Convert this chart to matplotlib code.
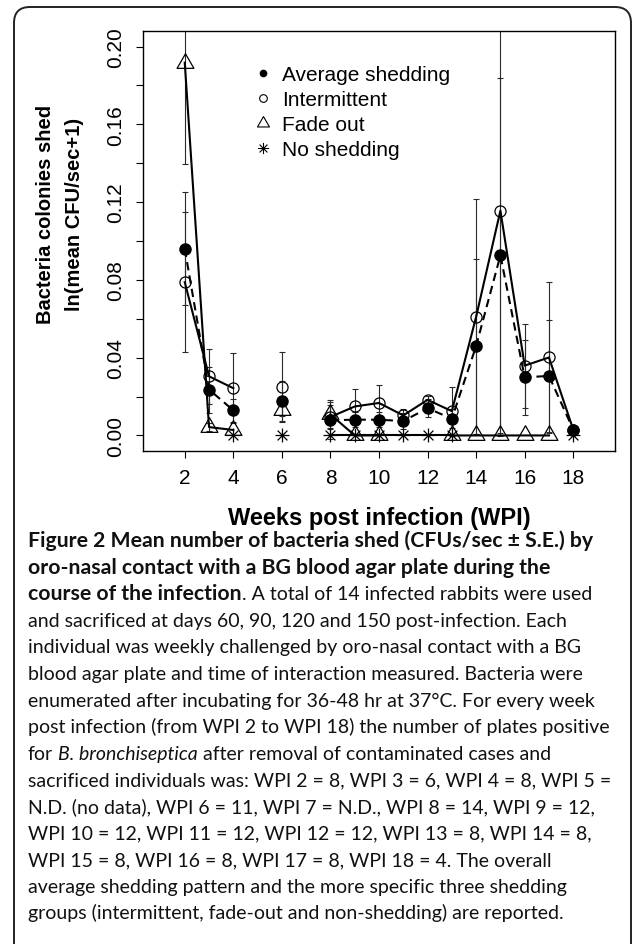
import numpy as np
import matplotlib
matplotlib.use("Agg")
import matplotlib.pyplot as plt
from matplotlib.lines import Line2D
from matplotlib.path import Path
from matplotlib.patches import FancyBboxPatch

nan = np.nan

# weeks post infection, 5 and 7 have no data (breaks the lines)
wpi = [2, 3, 4, 5, 6, 7, 8, 9, 10, 11, 12, 13, 14, 15, 16, 17, 18]

average = [0.096, 0.0236, 0.0129, nan, 0.0176, nan, 0.0078, 0.0081, 0.0081,
           0.0074, 0.014, 0.0086, 0.046, 0.0926, 0.0299, 0.0306, 0.003]
average_se = [0.029, 0.0118, 0.006, nan, 0.0106, nan, 0.0095, 0.004, 0.004,
              0.0043, 0.0045, 0.005, 0.045, 0.0911, 0.0192, 0.0288, nan]

intermittent = [0.0788, 0.0304, 0.0243, nan, 0.0251, nan, 0.0095, 0.0149, 0.0167,
                0.0103, 0.0183, 0.0125, 0.061, 0.1156, 0.0359, 0.0401, 0.003]
intermittent_se = [0.036, 0.014, 0.018, nan, 0.0176, nan, 0.006, 0.009, 0.0095,
                   0.0034, 0.0019, 0.0126, 0.0604, 0.116, 0.0216, 0.0387, nan]

fade_out = [0.1917, 0.0043, 0.0028, nan, 0.0129, nan, 0.0108, 0.0, 0.0,
            nan, nan, 0.0, 0.0, 0.0, 0.0, 0.0, nan]
fade_out_se = [0.052, 0.002, nan, nan, 0.003, nan, 0.0072, nan, nan,
               nan, nan, nan, nan, nan, nan, nan, nan]

no_shedding = [nan, nan, 0.0, nan, 0.0, nan, 0.0, 0.0, 0.0,
               0.0, 0.0, 0.0, nan, nan, nan, nan, 0.0]

legend_labels = ["Average shedding", "Intermittent", "Fade out", "No shedding"]

xticks = [2, 4, 6, 8, 10, 12, 14, 16, 18]
yticks = [0.00, 0.02, 0.04, 0.06, 0.08, 0.10, 0.12, 0.14, 0.16, 0.18, 0.20]
ytick_labels = ["0.00", "", "0.04", "", "0.08", "", "0.12", "", "0.16", "", "0.20"]

caption = [
    [("Figure 2 Mean number of bacteria shed (CFUs/sec \u00b1 S.E.) by", "bold", "normal")],
    [("oro-nasal contact with a BG blood agar plate during the", "bold", "normal")],
    [("course of the infection", "bold", "normal"),
     (". A total of 14 infected rabbits were used", "normal", "normal")],
    [("and sacrificed at days 60, 90, 120 and 150 post-infection. Each", "normal", "normal")],
    [("individual was weekly challenged by oro-nasal contact with a BG", "normal", "normal")],
    [("blood agar plate and time of interaction measured. Bacteria were", "normal", "normal")],
    [("enumerated after incubating for 36-48 hr at 37\u00b0C. For every week", "normal", "normal")],
    [("post infection (from WPI 2 to WPI 18) the number of plates positive", "normal", "normal")],
    [("for", "normal", "normal"), (" B. bronchiseptica", "normal", "italic"),
     (" after removal of contaminated cases and", "normal", "normal")],
    [("sacrificed individuals was: WPI 2 = 8, WPI 3 = 6, WPI 4 = 8, WPI 5 =", "normal", "normal")],
    [("N.D. (no data), WPI 6 = 11, WPI 7 = N.D., WPI 8 = 14, WPI 9 = 12,", "normal", "normal")],
    [("WPI 10 = 12, WPI 11 = 12, WPI 12 = 12, WPI 13 = 8, WPI 14 = 8,", "normal", "normal")],
    [("WPI 15 = 8, WPI 16 = 8, WPI 17 = 8, WPI 18 = 4. The overall", "normal", "normal")],
    [("average shedding pattern and the more specific three shedding", "normal", "normal")],
    [("groups (intermittent, fade-out and non-shedding) are reported.", "normal", "normal")],
]

plt.rcParams['font.family'] = ['Liberation Sans', 'DejaVu Sans']

W, H, DPI = 633, 945, 100
fig = plt.figure(figsize=(W / DPI, H / DPI), dpi=DPI)
fig.patch.set_facecolor('white')

# rounded frame around the figure panel
frame = FancyBboxPatch((14 / DPI, -0.5), (631 - 14) / DPI, (H - 8) / DPI + 0.5,
                       boxstyle="round,pad=0,rounding_size=0.16",
                       transform=fig.dpi_scale_trans, fill=False,
                       edgecolor='#222222', linewidth=1.4)
fig.add_artist(frame)

ax = fig.add_axes([143 / W, 1 - 452 / H, (615 - 143) / W, (452 - 32) / H])

# R style markers
asterisk = Path([(-1, 0), (1, 0), (0, -1), (0, 1),
                 (-0.707, -0.707), (0.707, 0.707), (-0.707, 0.707), (0.707, -0.707)],
                [Path.MOVETO, Path.LINETO] * 4)
triangle = Path([(0, 1), (-0.866, -0.5), (0.866, -0.5), (0, 1)],
                [Path.MOVETO, Path.LINETO, Path.LINETO, Path.CLOSEPOLY])

eb = dict(fmt='none', ecolor='#2a2a2a', elinewidth=0.8, capsize=2.5, capthick=0.8)
ax.errorbar(wpi, fade_out, yerr=fade_out_se, **eb)
ax.errorbar(wpi, intermittent, yerr=intermittent_se, **eb)
ax.errorbar(wpi, average, yerr=average_se, **eb)

ax.plot(wpi, no_shedding, '-', color='k', lw=1.5, marker=asterisk, ms=10, mew=0.9)
ax.plot(wpi, fade_out, '-', color='k', lw=1.5, marker=triangle, ms=14,
        mfc='none', mec='k', mew=0.9)
ax.plot(wpi, intermittent, '-', color='k', lw=1.5, marker='o', ms=8,
        mfc='none', mec='k', mew=0.9)
ax.plot(wpi, average, color='k', lw=1.5, linestyle=(0, (4, 2.5)), marker='o', ms=8,
        mfc='k', mec='k')

ax.set_xlim(0.28, 19.72)
ax.set_ylim(-0.008, 0.208)
ax.set_xticks(xticks)
ax.set_xticklabels([str(v) for v in xticks])
ax.set_yticks(yticks)
ax.set_yticklabels(ytick_labels, rotation=90, va='center')
ax.tick_params(direction='out', length=5, width=0.8, labelsize=15)
ax.tick_params(axis='x', pad=7)
ax.tick_params(axis='y', pad=8)
for sp in ax.spines.values():
    sp.set_linewidth(1.0)

ax.set_xlabel("Weeks post infection (WPI)", fontsize=17, fontweight='bold', va='center')
ax.xaxis.set_label_coords(0.5, (452 - 519) / 420)
ax.set_ylabel("Bacteria colonies shed\nln(mean CFU/sec+1)", fontsize=14.5,
              fontweight='bold', va='center', linespacing=1.7)
ax.yaxis.set_label_coords((60 - 143) / 472, (452 - 214) / 420)

handles = [
    Line2D([], [], ls='none', marker='o', color='k', ms=4.5),
    Line2D([], [], ls='none', marker='o', color='k', mfc='none', ms=5.5, mew=0.8),
    Line2D([], [], ls='none', marker=triangle, color='k', mfc='none', ms=10, mew=0.8),
    Line2D([], [], ls='none', marker=asterisk, color='k', ms=8, mew=0.8),
]
ax.legend(handles, legend_labels, loc='upper left', bbox_to_anchor=(255 / W, 1 - 66 / H),
          bbox_transform=fig.transFigure, frameon=False, fontsize=15, borderpad=0,
          borderaxespad=0, handlelength=0.75, handletextpad=0.55, labelspacing=0.29)

# caption, drawn run by run so bold / italic pieces can share a line
renderer = fig.canvas.get_renderer()
cap_size = 14
bold_size = 15.3
x0 = 28
base0 = 547
step = 26.6
for i, runs in enumerate(caption):
    x = x0
    y = 1 - (base0 + i * step) / H
    for text, weight, style in runs:
        size = bold_size if weight == 'bold' else cap_size
        if text.startswith(' '):
            probe = fig.text(0, 0, "n n", family='Lato', fontsize=size)
            probe2 = fig.text(0, 0, "nn", family='Lato', fontsize=size)
            x += probe.get_window_extent(renderer).width - probe2.get_window_extent(renderer).width
            probe.remove()
            probe2.remove()
        t = fig.text(x / W, y, text.lstrip(' '), family='Lato', fontsize=size,
                     fontweight=weight, fontstyle=style, ha='left', va='baseline',
                     color='#111111')
        x = t.get_window_extent(renderer).x1

fig.savefig("out.png", dpi=DPI)
